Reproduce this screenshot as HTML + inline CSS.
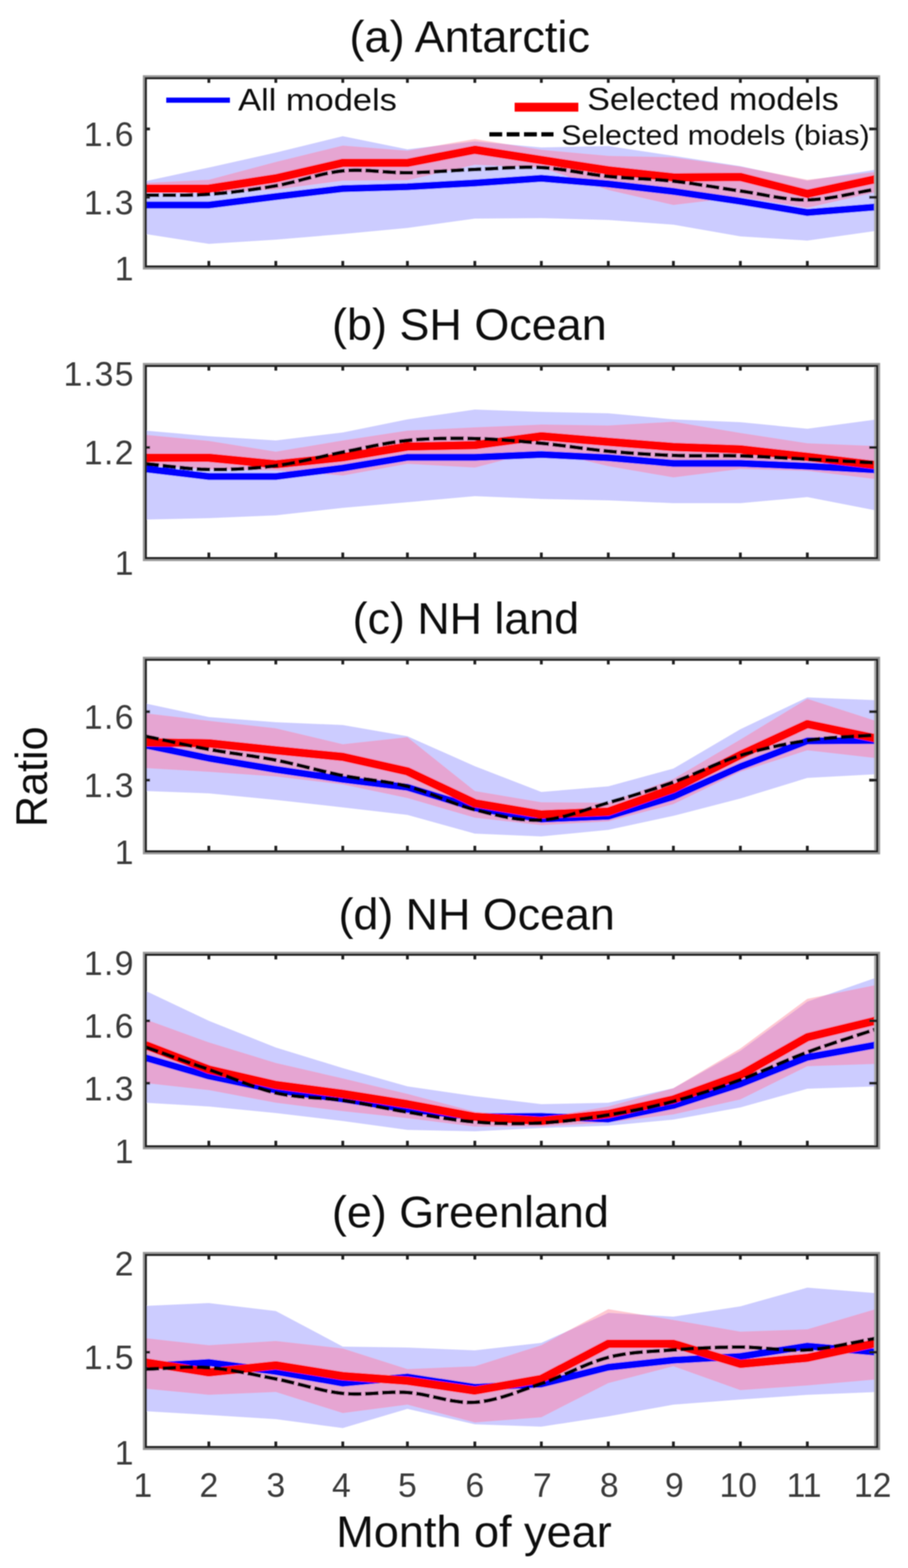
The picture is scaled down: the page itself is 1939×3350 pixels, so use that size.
<!DOCTYPE html><html><head><meta charset="utf-8"><title>Ratio by month of year</title><style>html,body{margin:0;padding:0;background:#fff;}svg{display:block;}</style></head><body>
<svg width="1939" height="3350" viewBox="0 0 1939 3350" font-family="'Liberation Sans', Arial, Helvetica, sans-serif">
<rect x="0" y="0" width="1939" height="3350" fill="#fff"/>
<defs>
<filter id="soft" x="0" y="0" width="1939" height="3350" filterUnits="userSpaceOnUse"><feGaussianBlur stdDeviation="1.3"/></filter>
<clipPath id="ca"><rect x="311.3" y="167" width="1561.9" height="402.5"/></clipPath>
<clipPath id="bba"><polygon points="311.0,387.0 446.0,358.0 589.0,326.0 732.0,291.0 870.0,319.0 1014.0,302.0 1156.0,315.0 1299.0,312.0 1438.0,333.0 1581.0,355.0 1724.0,386.0 1873.0,362.0 1873.0,493.0 1724.0,514.0 1581.0,505.0 1438.0,480.0 1299.0,470.0 1156.0,466.0 1014.0,467.0 870.0,487.0 732.0,500.0 589.0,512.0 446.0,521.0 311.0,500.0"/></clipPath>
<clipPath id="cb"><rect x="311.3" y="781.7" width="1561.9" height="410.79999999999995"/></clipPath>
<clipPath id="bbb"><polygon points="311.0,920.0 446.0,932.0 589.0,941.0 732.0,924.0 870.0,896.0 1014.0,875.0 1156.0,880.0 1299.0,883.0 1438.0,896.0 1581.0,902.0 1724.0,916.0 1873.0,896.0 1873.0,1091.0 1724.0,1062.0 1581.0,1075.0 1438.0,1075.0 1299.0,1069.0 1156.0,1066.0 1014.0,1060.0 870.0,1073.0 732.0,1085.0 589.0,1101.0 446.0,1107.0 311.0,1110.0"/></clipPath>
<clipPath id="cc"><rect x="311.3" y="1409.4" width="1561.9" height="409.5999999999999"/></clipPath>
<clipPath id="bbc"><polygon points="311.0,1503.0 446.0,1532.0 589.0,1543.0 732.0,1549.0 870.0,1573.0 1014.0,1637.0 1156.0,1692.0 1299.0,1680.0 1438.0,1642.0 1581.0,1558.0 1724.0,1490.0 1873.0,1496.0 1873.0,1654.0 1724.0,1662.0 1581.0,1706.0 1438.0,1743.0 1299.0,1773.0 1156.0,1787.0 1014.0,1781.0 870.0,1741.0 732.0,1725.0 589.0,1709.0 446.0,1695.0 311.0,1690.0"/></clipPath>
<clipPath id="cd"><rect x="311.3" y="2039.7" width="1561.9" height="409.4999999999998"/></clipPath>
<clipPath id="bbd"><polygon points="311.0,2117.0 446.0,2181.0 589.0,2238.0 732.0,2282.0 870.0,2321.0 1014.0,2342.0 1156.0,2359.0 1299.0,2356.0 1438.0,2325.0 1581.0,2245.0 1724.0,2140.0 1873.0,2088.0 1873.0,2321.0 1724.0,2326.0 1581.0,2366.0 1438.0,2392.0 1299.0,2405.0 1156.0,2410.0 1014.0,2417.0 870.0,2414.0 732.0,2395.0 589.0,2378.0 446.0,2364.0 311.0,2356.0"/></clipPath>
<clipPath id="ce"><rect x="311.3" y="2681" width="1561.9" height="410.6999999999998"/></clipPath>
<clipPath id="bbe"><polygon points="311.0,2790.0 446.0,2784.0 589.0,2801.0 732.0,2877.0 870.0,2879.0 1014.0,2885.0 1156.0,2869.0 1299.0,2805.0 1438.0,2813.0 1581.0,2791.0 1724.0,2751.0 1873.0,2763.0 1873.0,2974.0 1724.0,2980.0 1581.0,2990.0 1438.0,3001.0 1299.0,3026.0 1156.0,3048.0 1014.0,3043.0 870.0,3010.0 732.0,3051.0 589.0,3032.0 446.0,3023.0 311.0,3015.0"/></clipPath>
</defs>
<g filter="url(#soft)">
<g clip-path="url(#ca)">
<polygon points="311.0,391.0 446.0,384.0 589.0,346.0 732.0,311.0 870.0,322.0 1014.0,297.0 1156.0,320.0 1299.0,333.0 1438.0,336.0 1581.0,356.0 1724.0,384.0 1873.0,367.0 1873.0,410.0 1724.0,444.0 1581.0,421.0 1438.0,438.0 1299.0,406.0 1156.0,358.0 1014.0,352.0 870.0,385.0 732.0,386.0 589.0,405.0 446.0,412.0 311.0,412.0" fill="#ffc8d2"/>
<polygon points="311.0,387.0 446.0,358.0 589.0,326.0 732.0,291.0 870.0,319.0 1014.0,302.0 1156.0,315.0 1299.0,312.0 1438.0,333.0 1581.0,355.0 1724.0,386.0 1873.0,362.0 1873.0,493.0 1724.0,514.0 1581.0,505.0 1438.0,480.0 1299.0,470.0 1156.0,466.0 1014.0,467.0 870.0,487.0 732.0,500.0 589.0,512.0 446.0,521.0 311.0,500.0" fill="#ccccff"/>
<polygon points="311.0,391.0 446.0,384.0 589.0,346.0 732.0,311.0 870.0,322.0 1014.0,297.0 1156.0,320.0 1299.0,333.0 1438.0,336.0 1581.0,356.0 1724.0,384.0 1873.0,367.0 1873.0,410.0 1724.0,444.0 1581.0,421.0 1438.0,438.0 1299.0,406.0 1156.0,358.0 1014.0,352.0 870.0,385.0 732.0,386.0 589.0,405.0 446.0,412.0 311.0,412.0" fill="#e6a5d2" clip-path="url(#bba)"/>
<polyline points="311.0,438.0 446.0,438.0 589.0,420.0 732.0,403.0 870.0,399.0 1014.0,391.0 1156.0,381.0 1299.0,393.0 1438.0,409.0 1581.0,430.0 1724.0,454.0 1873.0,442.0" fill="none" stroke="#0000ff" stroke-width="15" stroke-linejoin="round"/>
<polyline points="311.0,403.0 446.0,403.0 589.0,381.0 732.0,348.0 870.0,348.0 1014.0,320.0 1156.0,342.0 1299.0,364.0 1438.0,379.0 1581.0,378.0 1724.0,414.0 1873.0,382.0" fill="none" stroke="#ff0000" stroke-width="18" stroke-linejoin="round"/>
<polyline points="311.0,417.0 319.4,416.9 327.8,416.9 336.2,416.9 344.6,416.9 352.9,416.9 361.3,417.0 369.6,417.0 378.0,417.0 386.4,417.0 394.8,416.9 403.2,416.8 411.7,416.6 420.2,416.4 428.7,416.0 437.3,415.6 446.0,415.0 454.2,414.4 462.5,413.7 470.8,413.0 479.1,412.2 487.5,411.3 495.9,410.4 504.3,409.4 512.8,408.4 521.2,407.3 529.7,406.2 538.2,405.0 546.7,403.8 555.2,402.5 563.7,401.2 572.1,399.9 580.6,398.4 589.0,397.0 597.4,395.4 605.9,393.7 614.3,391.7 622.8,389.7 631.2,387.5 639.7,385.3 648.1,383.0 656.6,380.8 665.0,378.5 673.5,376.3 681.9,374.2 690.3,372.2 698.7,370.3 707.1,368.7 715.4,367.2 723.7,366.0 732.0,365.0 740.2,364.3 748.4,363.9 756.6,363.7 764.7,363.7 772.8,363.9 780.8,364.2 788.9,364.6 796.9,365.2 805.0,365.7 813.0,366.3 821.1,367.0 829.1,367.5 837.2,368.1 845.4,368.5 853.5,368.8 861.7,369.0 870.0,369.0 877.9,368.9 885.7,368.7 893.7,368.4 901.6,368.1 909.6,367.8 917.6,367.4 925.7,366.9 933.7,366.5 941.8,366.0 949.8,365.5 957.9,365.0 965.9,364.5 974.0,364.0 982.0,363.6 990.0,363.1 998.1,362.7 1006.0,362.3 1014.0,362.0 1022.4,361.6 1030.8,361.3 1039.2,360.8 1047.5,360.4 1055.9,359.9 1064.2,359.4 1072.6,359.0 1080.9,358.6 1089.2,358.2 1097.6,357.9 1105.9,357.6 1114.2,357.4 1122.6,357.3 1130.9,357.3 1139.3,357.4 1147.6,357.6 1156.0,358.0 1164.4,358.5 1172.8,359.2 1181.2,360.1 1189.7,361.1 1198.1,362.2 1206.6,363.4 1215.0,364.6 1223.5,366.0 1231.9,367.3 1240.4,368.7 1248.8,370.0 1257.2,371.4 1265.6,372.7 1274.0,373.9 1282.4,375.0 1290.7,376.1 1299.0,377.0 1307.3,377.8 1315.5,378.5 1323.7,379.2 1331.9,379.7 1340.1,380.3 1348.2,380.8 1356.3,381.2 1364.4,381.7 1372.6,382.1 1380.7,382.5 1388.8,383.0 1396.9,383.5 1405.1,384.1 1413.3,384.7 1421.5,385.4 1429.7,386.1 1438.0,387.0 1446.3,388.0 1454.6,389.0 1463.0,390.1 1471.4,391.2 1479.8,392.4 1488.2,393.7 1496.6,395.0 1505.0,396.3 1513.5,397.6 1521.9,398.9 1530.4,400.3 1538.8,401.6 1547.3,403.0 1555.7,404.3 1564.2,405.6 1572.6,406.8 1581.0,408.0 1589.4,409.2 1597.8,410.6 1606.2,412.0 1614.5,413.5 1622.9,415.0 1631.2,416.5 1639.6,418.1 1647.9,419.5 1656.3,420.9 1664.7,422.3 1673.1,423.5 1681.5,424.6 1689.9,425.5 1698.4,426.2 1706.9,426.7 1715.4,427.0 1724.0,427.0 1732.1,426.8 1740.3,426.3 1748.5,425.6 1756.7,424.7 1765.0,423.7 1773.2,422.4 1781.5,421.1 1789.8,419.7 1798.1,418.1 1806.4,416.5 1814.8,414.9 1823.1,413.2 1831.4,411.6 1839.8,409.9 1848.1,408.3 1856.4,406.8 1864.7,405.3 1873.0,404.0" fill="none" stroke="#000" stroke-width="8" stroke-dasharray="28.5 8" stroke-linejoin="round"/>
</g>
<rect x="307.0" y="162.7" width="1570.5" height="411.1" fill="none" stroke="#9a9a9a" stroke-width="4"/>
<line x1="1868.8" y1="167" x2="1868.8" y2="569.5" stroke="#a8a8a8" stroke-width="4.4"/>
<rect x="311.3" y="167" width="1561.9" height="402.5" fill="none" stroke="#222222" stroke-width="4.6"/>
<path d="M446,167v10M446,569.5v-12M589,167v10M589,569.5v-12M732,167v10M732,569.5v-12M870,167v10M870,569.5v-12M1014,167v10M1014,569.5v-12M1156,167v10M1156,569.5v-12M1299,167v10M1299,569.5v-12M1438,167v10M1438,569.5v-12M1581,167v10M1581,569.5v-12M1724,167v10M1724,569.5v-12M311.3,275.5h9M1873.2,275.5h-17M311.3,421.5h9M1873.2,421.5h-17" stroke="#222222" stroke-width="6" fill="none"/>
<text x="288" y="312" font-size="72" letter-spacing="3" text-anchor="end" fill="#3a3a3a">1.6</text>
<text x="288" y="457.5" font-size="72" letter-spacing="3" text-anchor="end" fill="#3a3a3a">1.3</text>
<text x="288" y="598.5" font-size="72" letter-spacing="3" text-anchor="end" fill="#3a3a3a">1</text>
<text x="746.3" y="110.5" font-size="95" textLength="513.6000000000001" lengthAdjust="spacingAndGlyphs" fill="#111">(a) Antarctic</text>
<g clip-path="url(#cb)">
<polygon points="311.0,929.0 446.0,942.0 589.0,965.0 732.0,941.0 870.0,920.0 1014.0,913.0 1156.0,907.0 1299.0,909.0 1438.0,901.0 1581.0,925.0 1724.0,947.0 1873.0,953.0 1873.0,1024.0 1724.0,1006.0 1581.0,1002.0 1438.0,1020.0 1299.0,996.0 1156.0,962.0 1014.0,999.0 870.0,991.0 732.0,1016.0 589.0,1005.0 446.0,1003.0 311.0,994.0" fill="#ffc8d2"/>
<polygon points="311.0,920.0 446.0,932.0 589.0,941.0 732.0,924.0 870.0,896.0 1014.0,875.0 1156.0,880.0 1299.0,883.0 1438.0,896.0 1581.0,902.0 1724.0,916.0 1873.0,896.0 1873.0,1091.0 1724.0,1062.0 1581.0,1075.0 1438.0,1075.0 1299.0,1069.0 1156.0,1066.0 1014.0,1060.0 870.0,1073.0 732.0,1085.0 589.0,1101.0 446.0,1107.0 311.0,1110.0" fill="#ccccff"/>
<polygon points="311.0,929.0 446.0,942.0 589.0,965.0 732.0,941.0 870.0,920.0 1014.0,913.0 1156.0,907.0 1299.0,909.0 1438.0,901.0 1581.0,925.0 1724.0,947.0 1873.0,953.0 1873.0,1024.0 1724.0,1006.0 1581.0,1002.0 1438.0,1020.0 1299.0,996.0 1156.0,962.0 1014.0,999.0 870.0,991.0 732.0,1016.0 589.0,1005.0 446.0,1003.0 311.0,994.0" fill="#e6a5d2" clip-path="url(#bbb)"/>
<polyline points="311.0,1002.0 446.0,1018.0 589.0,1018.0 732.0,1000.0 870.0,977.0 1014.0,977.0 1156.0,971.0 1299.0,978.0 1438.0,990.0 1581.0,990.0 1724.0,996.0 1873.0,1004.0" fill="none" stroke="#0000ff" stroke-width="15" stroke-linejoin="round"/>
<polyline points="311.0,978.0 446.0,978.0 589.0,992.0 732.0,977.0 870.0,954.0 1014.0,951.0 1156.0,932.0 1299.0,944.0 1438.0,955.0 1581.0,960.0 1724.0,976.0 1873.0,994.0" fill="none" stroke="#ff0000" stroke-width="18" stroke-linejoin="round"/>
<polyline points="311.0,991.0 319.4,991.8 327.8,992.6 336.2,993.5 344.6,994.5 352.9,995.4 361.3,996.4 369.6,997.3 378.0,998.2 386.4,999.1 394.8,1000.0 403.2,1000.7 411.7,1001.4 420.2,1002.0 428.7,1002.5 437.3,1002.8 446.0,1003.0 454.2,1003.1 462.5,1003.1 470.8,1003.1 479.1,1002.9 487.5,1002.8 495.9,1002.5 504.3,1002.2 512.8,1001.8 521.2,1001.3 529.7,1000.8 538.2,1000.2 546.7,999.5 555.2,998.8 563.7,997.9 572.1,997.0 580.6,996.1 589.0,995.0 597.4,993.8 605.9,992.5 614.3,991.1 622.8,989.5 631.2,987.9 639.7,986.2 648.1,984.4 656.6,982.5 665.0,980.6 673.5,978.7 681.9,976.8 690.3,974.9 698.7,973.0 707.1,971.1 715.4,969.4 723.7,967.6 732.0,966.0 740.2,964.4 748.4,962.7 756.6,961.1 764.7,959.4 772.8,957.7 780.8,956.0 788.9,954.4 796.9,952.7 805.0,951.1 813.0,949.6 821.1,948.1 829.1,946.7 837.2,945.4 845.4,944.1 853.5,943.0 861.7,941.9 870.0,941.0 877.9,940.2 885.7,939.6 893.7,939.0 901.6,938.4 909.6,938.0 917.6,937.6 925.7,937.3 933.7,937.0 941.8,936.8 949.8,936.7 957.9,936.6 965.9,936.5 974.0,936.5 982.0,936.5 990.0,936.6 998.1,936.7 1006.0,936.8 1014.0,937.0 1022.4,937.2 1030.8,937.5 1039.2,937.8 1047.5,938.2 1055.9,938.7 1064.2,939.2 1072.6,939.8 1080.9,940.4 1089.2,941.0 1097.6,941.7 1105.9,942.4 1114.2,943.1 1122.6,943.9 1130.9,944.6 1139.3,945.4 1147.6,946.2 1156.0,947.0 1164.4,947.8 1172.8,948.7 1181.2,949.7 1189.7,950.7 1198.1,951.7 1206.6,952.8 1215.0,953.9 1223.5,955.0 1231.9,956.1 1240.4,957.2 1248.8,958.3 1257.2,959.4 1265.6,960.4 1274.0,961.4 1282.4,962.3 1290.7,963.2 1299.0,964.0 1307.3,964.8 1315.5,965.5 1323.7,966.2 1331.9,966.8 1340.1,967.5 1348.2,968.1 1356.3,968.7 1364.4,969.2 1372.6,969.8 1380.7,970.3 1388.8,970.7 1396.9,971.2 1405.1,971.6 1413.3,972.0 1421.5,972.4 1429.7,972.7 1438.0,973.0 1446.3,973.3 1454.6,973.4 1463.0,973.6 1471.4,973.7 1479.8,973.7 1488.2,973.7 1496.6,973.7 1505.0,973.6 1513.5,973.6 1521.9,973.6 1530.4,973.5 1538.8,973.5 1547.3,973.5 1555.7,973.6 1564.2,973.7 1572.6,973.8 1581.0,974.0 1589.4,974.3 1597.8,974.5 1606.2,974.9 1614.5,975.2 1622.9,975.6 1631.2,976.0 1639.6,976.4 1647.9,976.8 1656.3,977.3 1664.7,977.7 1673.1,978.2 1681.5,978.7 1689.9,979.2 1698.4,979.6 1706.9,980.1 1715.4,980.6 1724.0,981.0 1732.1,981.4 1740.3,981.8 1748.5,982.3 1756.7,982.7 1765.0,983.1 1773.2,983.6 1781.5,984.0 1789.8,984.5 1798.1,984.9 1806.4,985.4 1814.8,985.8 1823.1,986.3 1831.4,986.7 1839.8,987.2 1848.1,987.7 1856.4,988.1 1864.7,988.6 1873.0,989.0" fill="none" stroke="#000" stroke-width="8" stroke-dasharray="28.5 8" stroke-linejoin="round"/>
</g>
<rect x="307.0" y="777.4000000000001" width="1570.5" height="419.4" fill="none" stroke="#9a9a9a" stroke-width="4"/>
<line x1="1868.8" y1="781.7" x2="1868.8" y2="1192.5" stroke="#a8a8a8" stroke-width="4.4"/>
<rect x="311.3" y="781.7" width="1561.9" height="410.79999999999995" fill="none" stroke="#222222" stroke-width="4.6"/>
<path d="M446,781.7v10M446,1192.5v-12M589,781.7v10M589,1192.5v-12M732,781.7v10M732,1192.5v-12M870,781.7v10M870,1192.5v-12M1014,781.7v10M1014,1192.5v-12M1156,781.7v10M1156,1192.5v-12M1299,781.7v10M1299,1192.5v-12M1438,781.7v10M1438,1192.5v-12M1581,781.7v10M1581,1192.5v-12M1724,781.7v10M1724,1192.5v-12M311.3,956h9M1873.2,956h-17" stroke="#222222" stroke-width="6" fill="none"/>
<text x="288" y="824" font-size="72" letter-spacing="3" text-anchor="end" fill="#3a3a3a">1.35</text>
<text x="288" y="992" font-size="72" letter-spacing="3" text-anchor="end" fill="#3a3a3a">1.2</text>
<text x="288" y="1228" font-size="72" letter-spacing="3" text-anchor="end" fill="#3a3a3a">1</text>
<text x="709.1" y="726.4" font-size="95" textLength="586.4" lengthAdjust="spacingAndGlyphs" fill="#111">(b) SH Ocean</text>
<g clip-path="url(#cc)">
<polygon points="311.0,1524.0 446.0,1540.0 589.0,1556.0 732.0,1590.0 870.0,1575.0 1014.0,1690.0 1156.0,1714.0 1299.0,1715.0 1438.0,1664.0 1581.0,1580.0 1724.0,1493.0 1873.0,1541.0 1873.0,1620.0 1724.0,1603.0 1581.0,1649.0 1438.0,1718.0 1299.0,1755.0 1156.0,1763.0 1014.0,1747.0 870.0,1705.0 732.0,1676.0 589.0,1659.0 446.0,1649.0 311.0,1641.0" fill="#ffc8d2"/>
<polygon points="311.0,1503.0 446.0,1532.0 589.0,1543.0 732.0,1549.0 870.0,1573.0 1014.0,1637.0 1156.0,1692.0 1299.0,1680.0 1438.0,1642.0 1581.0,1558.0 1724.0,1490.0 1873.0,1496.0 1873.0,1654.0 1724.0,1662.0 1581.0,1706.0 1438.0,1743.0 1299.0,1773.0 1156.0,1787.0 1014.0,1781.0 870.0,1741.0 732.0,1725.0 589.0,1709.0 446.0,1695.0 311.0,1690.0" fill="#ccccff"/>
<polygon points="311.0,1524.0 446.0,1540.0 589.0,1556.0 732.0,1590.0 870.0,1575.0 1014.0,1690.0 1156.0,1714.0 1299.0,1715.0 1438.0,1664.0 1581.0,1580.0 1724.0,1493.0 1873.0,1541.0 1873.0,1620.0 1724.0,1603.0 1581.0,1649.0 1438.0,1718.0 1299.0,1755.0 1156.0,1763.0 1014.0,1747.0 870.0,1705.0 732.0,1676.0 589.0,1659.0 446.0,1649.0 311.0,1641.0" fill="#e6a5d2" clip-path="url(#bbc)"/>
<polyline points="311.0,1592.0 446.0,1620.0 589.0,1644.0 732.0,1665.0 870.0,1682.0 1014.0,1726.0 1156.0,1750.0 1299.0,1744.0 1438.0,1702.0 1581.0,1638.0 1724.0,1583.0 1873.0,1582.0" fill="none" stroke="#0000ff" stroke-width="15" stroke-linejoin="round"/>
<polyline points="311.0,1586.0 446.0,1588.0 589.0,1603.0 732.0,1617.0 870.0,1648.0 1014.0,1716.0 1156.0,1740.0 1299.0,1734.0 1438.0,1685.0 1581.0,1613.0 1724.0,1547.0 1873.0,1578.0" fill="none" stroke="#ff0000" stroke-width="18" stroke-linejoin="round"/>
<polyline points="311.0,1573.0 319.4,1574.8 327.8,1576.5 336.2,1578.3 344.6,1580.1 352.9,1581.9 361.3,1583.7 369.6,1585.5 378.0,1587.3 386.4,1589.1 394.8,1590.9 403.2,1592.6 411.7,1594.4 420.2,1596.1 428.7,1597.7 437.3,1599.4 446.0,1601.0 454.2,1602.5 462.5,1603.9 470.8,1605.2 479.1,1606.5 487.5,1607.8 495.9,1609.1 504.3,1610.3 512.8,1611.6 521.2,1612.8 529.7,1614.1 538.2,1615.3 546.7,1616.7 555.2,1618.0 563.7,1619.4 572.1,1620.9 580.6,1622.4 589.0,1624.0 597.4,1625.7 605.9,1627.5 614.3,1629.4 622.8,1631.3 631.2,1633.3 639.7,1635.3 648.1,1637.4 656.6,1639.5 665.0,1641.5 673.5,1643.6 681.9,1645.7 690.3,1647.7 698.7,1649.7 707.1,1651.6 715.4,1653.5 723.7,1655.3 732.0,1657.0 740.2,1658.6 748.4,1660.0 756.6,1661.3 764.7,1662.5 772.8,1663.7 780.8,1664.8 788.9,1665.8 796.9,1666.9 805.0,1668.0 813.0,1669.1 821.1,1670.3 829.1,1671.6 837.2,1672.9 845.4,1674.5 853.5,1676.1 861.7,1678.0 870.0,1680.0 877.9,1682.1 885.7,1684.5 893.7,1687.1 901.6,1689.8 909.6,1692.7 917.6,1695.7 925.7,1698.8 933.7,1701.9 941.8,1705.1 949.8,1708.2 957.9,1711.3 965.9,1714.4 974.0,1717.4 982.0,1720.3 990.0,1723.0 998.1,1725.5 1006.0,1727.9 1014.0,1730.0 1022.4,1732.1 1030.8,1734.2 1039.2,1736.3 1047.5,1738.4 1055.9,1740.3 1064.2,1742.2 1072.6,1744.0 1080.9,1745.7 1089.2,1747.2 1097.6,1748.5 1105.9,1749.7 1114.2,1750.7 1122.6,1751.5 1130.9,1752.0 1139.3,1752.3 1147.6,1752.3 1156.0,1752.0 1164.4,1751.4 1172.8,1750.4 1181.2,1749.1 1189.7,1747.5 1198.1,1745.7 1206.6,1743.6 1215.0,1741.3 1223.5,1738.9 1231.9,1736.3 1240.4,1733.7 1248.8,1731.0 1257.2,1728.2 1265.6,1725.4 1274.0,1722.7 1282.4,1720.0 1290.7,1717.5 1299.0,1715.0 1307.3,1712.6 1315.5,1710.2 1323.7,1707.8 1331.9,1705.4 1340.1,1703.0 1348.2,1700.5 1356.3,1698.0 1364.4,1695.5 1372.6,1693.0 1380.7,1690.4 1388.8,1687.8 1396.9,1685.1 1405.1,1682.4 1413.3,1679.6 1421.5,1676.8 1429.7,1673.9 1438.0,1671.0 1446.3,1667.9 1454.6,1664.7 1463.0,1661.4 1471.4,1658.0 1479.8,1654.4 1488.2,1650.8 1496.6,1647.2 1505.0,1643.6 1513.5,1639.9 1521.9,1636.3 1530.4,1632.8 1538.8,1629.3 1547.3,1626.0 1555.7,1622.7 1564.2,1619.6 1572.6,1616.7 1581.0,1614.0 1589.4,1611.4 1597.8,1609.0 1606.2,1606.6 1614.5,1604.3 1622.9,1602.1 1631.2,1600.1 1639.6,1598.0 1647.9,1596.1 1656.3,1594.3 1664.7,1592.5 1673.1,1590.8 1681.5,1589.2 1689.9,1587.6 1698.4,1586.1 1706.9,1584.7 1715.4,1583.3 1724.0,1582.0 1732.1,1580.8 1740.3,1579.8 1748.5,1578.8 1756.7,1578.0 1765.0,1577.2 1773.2,1576.5 1781.5,1575.9 1789.8,1575.3 1798.1,1574.8 1806.4,1574.2 1814.8,1573.7 1823.1,1573.3 1831.4,1572.8 1839.8,1572.3 1848.1,1571.8 1856.4,1571.2 1864.7,1570.6 1873.0,1570.0" fill="none" stroke="#000" stroke-width="8" stroke-dasharray="28.5 8" stroke-linejoin="round"/>
</g>
<rect x="307.0" y="1405.1000000000001" width="1570.5" height="418.19999999999993" fill="none" stroke="#9a9a9a" stroke-width="4"/>
<line x1="1868.8" y1="1409.4" x2="1868.8" y2="1819" stroke="#a8a8a8" stroke-width="4.4"/>
<rect x="311.3" y="1409.4" width="1561.9" height="409.5999999999999" fill="none" stroke="#222222" stroke-width="4.6"/>
<path d="M446,1409.4v10M446,1819v-12M589,1409.4v10M589,1819v-12M732,1409.4v10M732,1819v-12M870,1409.4v10M870,1819v-12M1014,1409.4v10M1014,1819v-12M1156,1409.4v10M1156,1819v-12M1299,1409.4v10M1299,1819v-12M1438,1409.4v10M1438,1819v-12M1581,1409.4v10M1581,1819v-12M1724,1409.4v10M1724,1819v-12M311.3,1520.5h9M1873.2,1520.5h-17M311.3,1666.7h9M1873.2,1666.7h-17" stroke="#222222" stroke-width="6" fill="none"/>
<text x="288" y="1557" font-size="72" letter-spacing="3" text-anchor="end" fill="#3a3a3a">1.6</text>
<text x="288" y="1703" font-size="72" letter-spacing="3" text-anchor="end" fill="#3a3a3a">1.3</text>
<text x="288" y="1846" font-size="72" letter-spacing="3" text-anchor="end" fill="#3a3a3a">1</text>
<text x="753.1" y="1353.8" font-size="95" textLength="483.6" lengthAdjust="spacingAndGlyphs" fill="#111">(c) NH land</text>
<g clip-path="url(#cd)">
<polygon points="311.0,2178.0 446.0,2227.0 589.0,2271.0 732.0,2304.0 870.0,2337.0 1014.0,2375.0 1156.0,2388.0 1299.0,2364.0 1438.0,2325.0 1581.0,2240.0 1724.0,2134.0 1873.0,2104.0 1873.0,2273.0 1724.0,2278.0 1581.0,2349.0 1438.0,2381.0 1299.0,2398.0 1156.0,2407.0 1014.0,2407.0 870.0,2389.0 732.0,2374.0 589.0,2356.0 446.0,2329.0 311.0,2314.0" fill="#ffc8d2"/>
<polygon points="311.0,2117.0 446.0,2181.0 589.0,2238.0 732.0,2282.0 870.0,2321.0 1014.0,2342.0 1156.0,2359.0 1299.0,2356.0 1438.0,2325.0 1581.0,2245.0 1724.0,2140.0 1873.0,2088.0 1873.0,2321.0 1724.0,2326.0 1581.0,2366.0 1438.0,2392.0 1299.0,2405.0 1156.0,2410.0 1014.0,2417.0 870.0,2414.0 732.0,2395.0 589.0,2378.0 446.0,2364.0 311.0,2356.0" fill="#ccccff"/>
<polygon points="311.0,2178.0 446.0,2227.0 589.0,2271.0 732.0,2304.0 870.0,2337.0 1014.0,2375.0 1156.0,2388.0 1299.0,2364.0 1438.0,2325.0 1581.0,2240.0 1724.0,2134.0 1873.0,2104.0 1873.0,2273.0 1724.0,2278.0 1581.0,2349.0 1438.0,2381.0 1299.0,2398.0 1156.0,2407.0 1014.0,2407.0 870.0,2389.0 732.0,2374.0 589.0,2356.0 446.0,2329.0 311.0,2314.0" fill="#e6a5d2" clip-path="url(#bbd)"/>
<polyline points="311.0,2260.0 446.0,2299.0 589.0,2329.0 732.0,2348.0 870.0,2370.0 1014.0,2386.0 1156.0,2385.0 1299.0,2391.0 1438.0,2362.0 1581.0,2316.0 1724.0,2259.0 1873.0,2232.0" fill="none" stroke="#0000ff" stroke-width="15" stroke-linejoin="round"/>
<polyline points="311.0,2233.0 446.0,2285.0 589.0,2318.0 732.0,2337.0 870.0,2359.0 1014.0,2386.0 1156.0,2395.0 1299.0,2380.0 1438.0,2349.0 1581.0,2297.0 1724.0,2216.0 1873.0,2180.0" fill="none" stroke="#ff0000" stroke-width="18" stroke-linejoin="round"/>
<polyline points="311.0,2237.0 319.4,2240.0 327.8,2243.0 336.2,2246.0 344.6,2249.0 352.9,2251.9 361.3,2254.9 369.6,2257.9 378.0,2260.9 386.4,2263.9 394.8,2266.9 403.2,2269.9 411.7,2272.9 420.2,2275.9 428.7,2278.9 437.3,2281.9 446.0,2285.0 454.2,2287.9 462.5,2291.0 470.8,2294.1 479.1,2297.3 487.5,2300.6 495.9,2303.9 504.3,2307.1 512.8,2310.4 521.2,2313.6 529.7,2316.7 538.2,2319.8 546.7,2322.7 555.2,2325.5 563.7,2328.2 572.1,2330.7 580.6,2332.9 589.0,2335.0 597.4,2336.8 605.9,2338.4 614.3,2339.7 622.8,2340.9 631.2,2341.9 639.7,2342.8 648.1,2343.6 656.6,2344.2 665.0,2344.9 673.5,2345.5 681.9,2346.1 690.3,2346.7 698.7,2347.3 707.1,2348.1 715.4,2348.9 723.7,2349.9 732.0,2351.0 740.2,2352.2 748.4,2353.6 756.6,2354.9 764.7,2356.3 772.8,2357.8 780.8,2359.3 788.9,2360.9 796.9,2362.4 805.0,2364.0 813.0,2365.5 821.1,2367.1 829.1,2368.7 837.2,2370.2 845.4,2371.7 853.5,2373.2 861.7,2374.6 870.0,2376.0 877.9,2377.3 885.7,2378.6 893.7,2380.0 901.6,2381.3 909.6,2382.7 917.6,2384.0 925.7,2385.3 933.7,2386.7 941.8,2387.9 949.8,2389.2 957.9,2390.4 965.9,2391.6 974.0,2392.7 982.0,2393.7 990.0,2394.6 998.1,2395.5 1006.0,2396.3 1014.0,2397.0 1022.4,2397.6 1030.8,2398.2 1039.2,2398.7 1047.5,2399.2 1055.9,2399.6 1064.2,2399.9 1072.6,2400.1 1080.9,2400.3 1089.2,2400.4 1097.6,2400.5 1105.9,2400.5 1114.2,2400.4 1122.6,2400.2 1130.9,2400.0 1139.3,2399.8 1147.6,2399.4 1156.0,2399.0 1164.4,2398.5 1172.8,2397.9 1181.2,2397.3 1189.7,2396.6 1198.1,2395.8 1206.6,2394.9 1215.0,2394.0 1223.5,2393.0 1231.9,2391.9 1240.4,2390.8 1248.8,2389.7 1257.2,2388.5 1265.6,2387.2 1274.0,2386.0 1282.4,2384.7 1290.7,2383.3 1299.0,2382.0 1307.3,2380.6 1315.5,2379.2 1323.7,2377.8 1331.9,2376.4 1340.1,2374.9 1348.2,2373.3 1356.3,2371.8 1364.4,2370.1 1372.6,2368.5 1380.7,2366.8 1388.8,2365.0 1396.9,2363.1 1405.1,2361.2 1413.3,2359.3 1421.5,2357.3 1429.7,2355.2 1438.0,2353.0 1446.3,2350.8 1454.6,2348.4 1463.0,2346.1 1471.4,2343.6 1479.8,2341.1 1488.2,2338.5 1496.6,2335.9 1505.0,2333.2 1513.5,2330.5 1521.9,2327.7 1530.4,2324.9 1538.8,2322.0 1547.3,2319.1 1555.7,2316.1 1564.2,2313.1 1572.6,2310.1 1581.0,2307.0 1589.4,2303.9 1597.8,2300.6 1606.2,2297.3 1614.5,2293.8 1622.9,2290.3 1631.2,2286.8 1639.6,2283.2 1647.9,2279.6 1656.3,2275.9 1664.7,2272.3 1673.1,2268.7 1681.5,2265.1 1689.9,2261.5 1698.4,2258.0 1706.9,2254.6 1715.4,2251.3 1724.0,2248.0 1732.1,2245.0 1740.3,2242.0 1748.5,2239.1 1756.7,2236.3 1765.0,2233.5 1773.2,2230.7 1781.5,2227.9 1789.8,2225.2 1798.1,2222.4 1806.4,2219.7 1814.8,2217.0 1823.1,2214.3 1831.4,2211.6 1839.8,2208.9 1848.1,2206.2 1856.4,2203.5 1864.7,2200.8 1873.0,2198.0" fill="none" stroke="#000" stroke-width="8" stroke-dasharray="28.5 8" stroke-linejoin="round"/>
</g>
<rect x="307.0" y="2035.4" width="1570.5" height="418.0999999999998" fill="none" stroke="#9a9a9a" stroke-width="4"/>
<line x1="1868.8" y1="2039.7" x2="1868.8" y2="2449.2" stroke="#a8a8a8" stroke-width="4.4"/>
<rect x="311.3" y="2039.7" width="1561.9" height="409.4999999999998" fill="none" stroke="#222222" stroke-width="4.6"/>
<path d="M446,2039.7v10M446,2449.2v-12M589,2039.7v10M589,2449.2v-12M732,2039.7v10M732,2449.2v-12M870,2039.7v10M870,2449.2v-12M1014,2039.7v10M1014,2449.2v-12M1156,2039.7v10M1156,2449.2v-12M1299,2039.7v10M1299,2449.2v-12M1438,2039.7v10M1438,2449.2v-12M1581,2039.7v10M1581,2449.2v-12M1724,2039.7v10M1724,2449.2v-12M311.3,2181h9M1873.2,2181h-17M311.3,2314.3h9M1873.2,2314.3h-17" stroke="#222222" stroke-width="6" fill="none"/>
<text x="288" y="2082.5" font-size="72" letter-spacing="3" text-anchor="end" fill="#3a3a3a">1.9</text>
<text x="288" y="2216.5" font-size="72" letter-spacing="3" text-anchor="end" fill="#3a3a3a">1.6</text>
<text x="288" y="2350.5" font-size="72" letter-spacing="3" text-anchor="end" fill="#3a3a3a">1.3</text>
<text x="288" y="2484.5" font-size="72" letter-spacing="3" text-anchor="end" fill="#3a3a3a">1</text>
<text x="722.9" y="1985.9" font-size="95" textLength="590.0000000000001" lengthAdjust="spacingAndGlyphs" fill="#111">(d) NH Ocean</text>
<g clip-path="url(#ce)">
<polygon points="311.0,2859.0 446.0,2874.0 589.0,2865.0 732.0,2881.0 870.0,2925.0 1014.0,2919.0 1156.0,2874.0 1299.0,2797.0 1438.0,2820.0 1581.0,2845.0 1724.0,2840.0 1873.0,2796.0 1873.0,2947.0 1724.0,2960.0 1581.0,2970.0 1438.0,2919.0 1299.0,2955.0 1156.0,3028.0 1014.0,3039.0 870.0,3001.0 732.0,3019.0 589.0,2974.0 446.0,2980.0 311.0,2967.0" fill="#ffc8d2"/>
<polygon points="311.0,2790.0 446.0,2784.0 589.0,2801.0 732.0,2877.0 870.0,2879.0 1014.0,2885.0 1156.0,2869.0 1299.0,2805.0 1438.0,2813.0 1581.0,2791.0 1724.0,2751.0 1873.0,2763.0 1873.0,2974.0 1724.0,2980.0 1581.0,2990.0 1438.0,3001.0 1299.0,3026.0 1156.0,3048.0 1014.0,3043.0 870.0,3010.0 732.0,3051.0 589.0,3032.0 446.0,3023.0 311.0,3015.0" fill="#ccccff"/>
<polygon points="311.0,2859.0 446.0,2874.0 589.0,2865.0 732.0,2881.0 870.0,2925.0 1014.0,2919.0 1156.0,2874.0 1299.0,2797.0 1438.0,2820.0 1581.0,2845.0 1724.0,2840.0 1873.0,2796.0 1873.0,2947.0 1724.0,2960.0 1581.0,2970.0 1438.0,2919.0 1299.0,2955.0 1156.0,3028.0 1014.0,3039.0 870.0,3001.0 732.0,3019.0 589.0,2974.0 446.0,2980.0 311.0,2967.0" fill="#e6a5d2" clip-path="url(#bbe)"/>
<polyline points="311.0,2919.0 446.0,2911.0 589.0,2930.0 732.0,2955.0 870.0,2942.0 1014.0,2964.0 1156.0,2957.0 1299.0,2921.0 1438.0,2906.0 1581.0,2898.0 1724.0,2876.0 1873.0,2889.0" fill="none" stroke="#0000ff" stroke-width="15" stroke-linejoin="round"/>
<polyline points="311.0,2911.0 446.0,2932.0 589.0,2917.0 732.0,2940.0 870.0,2950.0 1014.0,2971.0 1156.0,2946.0 1299.0,2871.0 1438.0,2871.0 1581.0,2914.0 1724.0,2901.0 1873.0,2869.0" fill="none" stroke="#ff0000" stroke-width="18" stroke-linejoin="round"/>
<polyline points="311.0,2925.0 319.4,2924.8 327.8,2924.4 336.2,2924.1 344.6,2923.6 352.9,2923.2 361.3,2922.7 369.6,2922.2 378.0,2921.8 386.4,2921.4 394.8,2921.1 403.2,2920.9 411.7,2920.9 420.2,2920.9 428.7,2921.1 437.3,2921.4 446.0,2922.0 454.2,2922.7 462.5,2923.5 470.8,2924.5 479.1,2925.6 487.5,2926.9 495.9,2928.2 504.3,2929.6 512.8,2931.1 521.2,2932.7 529.7,2934.3 538.2,2935.9 546.7,2937.6 555.2,2939.3 563.7,2941.0 572.1,2942.7 580.6,2944.4 589.0,2946.0 597.4,2947.7 605.9,2949.5 614.3,2951.5 622.8,2953.5 631.2,2955.6 639.7,2957.8 648.1,2959.9 656.6,2962.1 665.0,2964.2 673.5,2966.2 681.9,2968.2 690.3,2970.1 698.7,2971.8 707.1,2973.4 715.4,2974.8 723.7,2976.0 732.0,2977.0 740.2,2977.7 748.4,2978.1 756.6,2978.3 764.7,2978.3 772.8,2978.1 780.8,2977.8 788.9,2977.4 796.9,2976.9 805.0,2976.4 813.0,2975.8 821.1,2975.3 829.1,2974.9 837.2,2974.6 845.4,2974.4 853.5,2974.4 861.7,2974.6 870.0,2975.0 877.9,2975.7 885.7,2976.7 893.7,2977.9 901.6,2979.3 909.6,2980.9 917.6,2982.6 925.7,2984.3 933.7,2986.1 941.8,2987.9 949.8,2989.6 957.9,2991.2 965.9,2992.7 974.0,2993.9 982.0,2995.0 990.0,2995.8 998.1,2996.2 1006.0,2996.3 1014.0,2996.0 1022.4,2995.3 1030.8,2994.2 1039.2,2992.8 1047.5,2991.1 1055.9,2989.2 1064.2,2987.0 1072.6,2984.7 1080.9,2982.1 1089.2,2979.5 1097.6,2976.7 1105.9,2973.8 1114.2,2970.8 1122.6,2967.8 1130.9,2964.8 1139.3,2961.8 1147.6,2958.9 1156.0,2956.0 1164.4,2953.1 1172.8,2949.9 1181.2,2946.6 1189.7,2943.1 1198.1,2939.5 1206.6,2935.8 1215.0,2932.1 1223.5,2928.4 1231.9,2924.7 1240.4,2921.0 1248.8,2917.5 1257.2,2914.0 1265.6,2910.8 1274.0,2907.7 1282.4,2904.9 1290.7,2902.3 1299.0,2900.0 1307.3,2898.0 1315.5,2896.2 1323.7,2894.7 1331.9,2893.3 1340.1,2892.1 1348.2,2891.0 1356.3,2890.1 1364.4,2889.2 1372.6,2888.5 1380.7,2887.9 1388.8,2887.3 1396.9,2886.8 1405.1,2886.2 1413.3,2885.7 1421.5,2885.2 1429.7,2884.6 1438.0,2884.0 1446.3,2883.4 1454.6,2882.8 1463.0,2882.2 1471.4,2881.6 1479.8,2881.1 1488.2,2880.7 1496.6,2880.2 1505.0,2879.8 1513.5,2879.4 1521.9,2879.1 1530.4,2878.8 1538.8,2878.6 1547.3,2878.4 1555.7,2878.2 1564.2,2878.1 1572.6,2878.0 1581.0,2878.0 1589.4,2878.1 1597.8,2878.3 1606.2,2878.7 1614.5,2879.2 1622.9,2879.8 1631.2,2880.5 1639.6,2881.2 1647.9,2881.8 1656.3,2882.5 1664.7,2883.1 1673.1,2883.7 1681.5,2884.1 1689.9,2884.5 1698.4,2884.6 1706.9,2884.6 1715.4,2884.4 1724.0,2884.0 1732.1,2883.4 1740.3,2882.6 1748.5,2881.6 1756.7,2880.5 1765.0,2879.3 1773.2,2878.0 1781.5,2876.5 1789.8,2875.0 1798.1,2873.4 1806.4,2871.8 1814.8,2870.2 1823.1,2868.5 1831.4,2866.8 1839.8,2865.2 1848.1,2863.5 1856.4,2861.9 1864.7,2860.4 1873.0,2859.0" fill="none" stroke="#000" stroke-width="8" stroke-dasharray="28.5 8" stroke-linejoin="round"/>
</g>
<rect x="307.0" y="2676.7" width="1570.5" height="419.29999999999984" fill="none" stroke="#9a9a9a" stroke-width="4"/>
<line x1="1868.8" y1="2681" x2="1868.8" y2="3091.7" stroke="#a8a8a8" stroke-width="4.4"/>
<rect x="311.3" y="2681" width="1561.9" height="410.6999999999998" fill="none" stroke="#222222" stroke-width="4.6"/>
<path d="M446,2681v10M446,3091.7v-12M589,2681v10M589,3091.7v-12M732,2681v10M732,3091.7v-12M870,2681v10M870,3091.7v-12M1014,2681v10M1014,3091.7v-12M1156,2681v10M1156,3091.7v-12M1299,2681v10M1299,3091.7v-12M1438,2681v10M1438,3091.7v-12M1581,2681v10M1581,3091.7v-12M1724,2681v10M1724,3091.7v-12M311.3,2889h9M1873.2,2889h-17" stroke="#222222" stroke-width="6" fill="none"/>
<text x="288" y="2725" font-size="72" letter-spacing="3" text-anchor="end" fill="#3a3a3a">2</text>
<text x="288" y="2925" font-size="72" letter-spacing="3" text-anchor="end" fill="#3a3a3a">1.5</text>
<text x="288" y="3129" font-size="72" letter-spacing="3" text-anchor="end" fill="#3a3a3a">1</text>
<text x="708.8" y="2621.8" font-size="95" textLength="591.3999999999999" lengthAdjust="spacingAndGlyphs" fill="#111">(e) Greenland</text>
<text x="305.0" y="3198" font-size="72" text-anchor="middle" fill="#3a3a3a">1</text>
<text x="446.0" y="3198" font-size="72" text-anchor="middle" fill="#3a3a3a">2</text>
<text x="589.0" y="3198" font-size="72" text-anchor="middle" fill="#3a3a3a">3</text>
<text x="729.0" y="3198" font-size="72" text-anchor="middle" fill="#3a3a3a">4</text>
<text x="870.0" y="3198" font-size="72" text-anchor="middle" fill="#3a3a3a">5</text>
<text x="1014.0" y="3198" font-size="72" text-anchor="middle" fill="#3a3a3a">6</text>
<text x="1158.0" y="3198" font-size="72" text-anchor="middle" fill="#3a3a3a">7</text>
<text x="1301.0" y="3198" font-size="72" text-anchor="middle" fill="#3a3a3a">8</text>
<text x="1440.0" y="3198" font-size="72" text-anchor="middle" fill="#3a3a3a">9</text>
<text x="1576.5" y="3198" font-size="72" text-anchor="middle" fill="#3a3a3a">10</text>
<text x="1717.0" y="3198" font-size="72" text-anchor="middle" fill="#3a3a3a">11</text>
<text x="1863.5" y="3198" font-size="72" text-anchor="middle" fill="#3a3a3a">12</text>
<text x="718.1" y="3305" font-size="95" textLength="588.1" lengthAdjust="spacingAndGlyphs" fill="#111">Month of year</text>
<text transform="translate(100,1767) rotate(-90)" font-size="95" textLength="215" lengthAdjust="spacingAndGlyphs" fill="#111">Ratio</text>
<line x1="355" y1="214" x2="491" y2="214" stroke="#0000ff" stroke-width="11"/>
<text x="508.5" y="236" font-size="66" textLength="339" lengthAdjust="spacingAndGlyphs" fill="#111">All models</text>
<line x1="1099" y1="229" x2="1235" y2="229" stroke="#ff0000" stroke-width="19"/>
<text x="1254" y="235" font-size="68" textLength="537" lengthAdjust="spacingAndGlyphs" fill="#111">Selected models</text>
<line x1="1045" y1="287" x2="1182" y2="287" stroke="#000" stroke-width="9" stroke-dasharray="27.4 9.6"/>
<text x="1198.5" y="308.5" font-size="59" textLength="658.5" lengthAdjust="spacingAndGlyphs" fill="#111">Selected models (bias)</text>
</g>
</svg></body></html>
